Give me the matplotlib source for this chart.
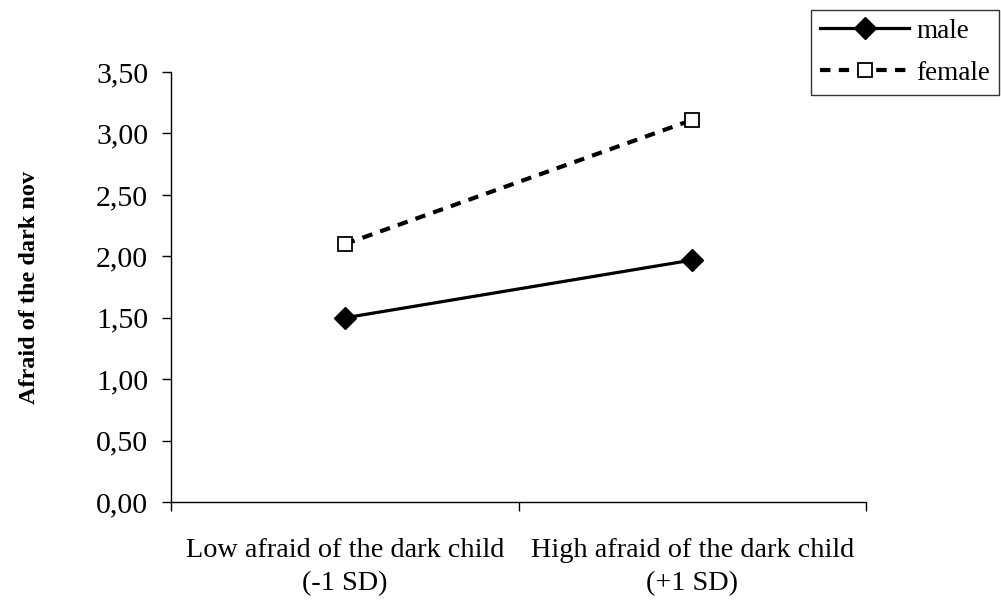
import matplotlib.pyplot as plt

# Simple slopes: fear of the dark (novel) by child fear level and gender
groups = ['Low afraid of the dark child\n(-1 SD)', 'High afraid of the dark child\n(+1 SD)']
male = [1.50, 1.97]
female = [2.10, 3.11]
yticks = [0.0, 0.5, 1.0, 1.5, 2.0, 2.5, 3.0, 3.5]

plt.rcParams['font.family'] = ['Liberation Serif', 'DejaVu Serif']

fig = plt.figure(figsize=(10.01, 6.0), dpi=100)
ax = fig.add_axes([0.171, 0.163, 0.694, 0.717])

x = range(len(groups))
ax.plot(x, male, color='black', lw=2.3, marker='D', ms=11,
        mfc='black', mec='black', label='male')
ax.plot(x, female, color='black', lw=3.0, ls=(0, (2.5, 2.0)), marker='s', ms=10,
        mfc='white', mec='black', mew=1.3, label='female')

ax.set_xlim(-0.5, 1.5)
ax.set_ylim(0, 3.5)
ax.set_yticks(yticks)
ax.set_yticklabels([f'{v:.2f}'.replace('.', ',') for v in yticks])
ax.set_xticks([-0.5, 0.5, 1.5])
ax.set_xticklabels([])
ax.set_xticks(list(x), minor=True)
ax.set_xticklabels(groups, minor=True, linespacing=1.4)
ax.tick_params(axis='x', which='minor', length=0, pad=26, labelsize=20.3)
ax.tick_params(axis='x', which='major', length=6.5, width=1, direction='out')
ax.tick_params(axis='y', length=6.5, width=1, direction='out', labelsize=21.5, pad=10)

for s in ['top', 'right']:
    ax.spines[s].set_visible(False)
for s in ['left', 'bottom']:
    ax.spines[s].set_linewidth(1)

ax.set_ylabel('Afraid of the dark nov', fontsize=17.5, fontweight='bold')
ax.yaxis.set_label_coords(-0.189, 0.5)

leg = ax.legend(loc='upper left', bbox_to_anchor=(811 / 1001, 1 - 10 / 600),
                bbox_transform=fig.transFigure, frameon=True, fancybox=False,
                fontsize=19.5, handlelength=3.3, handletextpad=0.27,
                borderpad=0.33, labelspacing=0.62, borderaxespad=0)
leg.get_frame().set_edgecolor('black')
leg.get_frame().set_linewidth(1)

fig.savefig('out.png', dpi=100)
